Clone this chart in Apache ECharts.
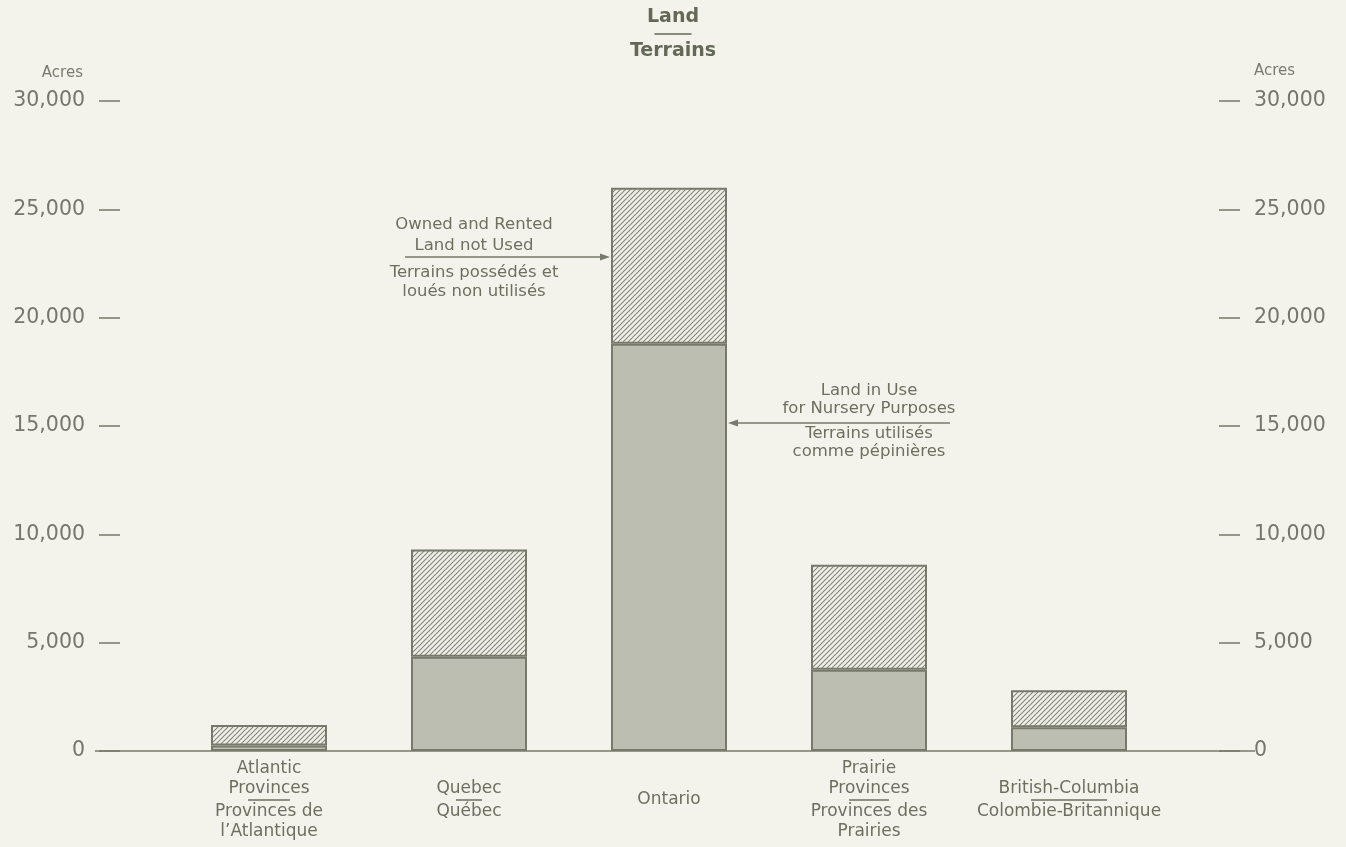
<!DOCTYPE html>
<html>
<head>
<meta charset="utf-8">
<script src="https://cdn.jsdelivr.net/npm/echarts@6/dist/echarts.min.js"></script>
<style>
  html, body { margin: 0; padding: 0; background: #f3f3ec; }
  #landChart { width: 1346px; height: 847px; }
</style>
</head>
<body>
<div id="landChart"></div>
<script>
// acres
const regionsEn = ['Atlantic\nProvinces', 'Quebec', 'Ontario', 'Prairie\nProvinces', 'British-Columbia'];
const regionsFr = ['Provinces de\nl\u2019Atlantique', 'Québec', '', 'Provinces des\nPrairies', 'Colombie-Britannique'];
const landInUse = [250, 4350, 18800, 3750, 1100];
const landNotUsed = [950, 4950, 7200, 4850, 1700];
const acreTicks = [0, 5000, 10000, 15000, 20000, 25000, 30000];

const ink = '#6d705f';
const lineInk = '#777a6a';
const font = 'DejaVu Sans';

// hatch fill for the unused land
const hatch = document.createElement('canvas');
hatch.width = 5;
hatch.height = 5;
const hctx = hatch.getContext('2d');
hctx.fillStyle = '#efefe8';
hctx.fillRect(0, 0, 5, 5);
hctx.strokeStyle = '#888a7c';
hctx.lineWidth = 1.2;
hctx.beginPath();
hctx.moveTo(-1, 6); hctx.lineTo(6, -1);
hctx.moveTo(-1, 1); hctx.lineTo(1, -1);
hctx.moveTo(4, 6); hctx.lineTo(6, 4);
hctx.stroke();

// little rules between the English and French names
const sepWidths = [42, 26, 0, 40, 76];
const labelRich = {
  t: {fontFamily: font, fontSize: 17, color: ink, lineHeight: 20, align: 'center'}
};
sepWidths.forEach(function (w, i) {
  labelRich['s' + i] = {width: w, height: 1.5, lineHeight: 3, backgroundColor: ink, align: 'center'};
});

function fmtAcres(v) {
  return v.toLocaleString('en-US');
}

const barWidth = 116;

const yAxisBase = {
  type: 'value',
  min: acreTicks[0],
  max: acreTicks[acreTicks.length - 1],
  interval: acreTicks[1] - acreTicks[0],
  name: 'Acres',
  nameLocation: 'end',
  offset: 49,
  splitLine: {show: false},
  axisLine: {show: false},
  axisTick: {show: true, length: 21, lineStyle: {color: lineInk, width: 1.5}},
  axisLabel: {margin: 35, color: '#74776a', fontFamily: font, fontSize: 20.5, formatter: fmtAcres},
};

let option = {
  backgroundColor: '#f3f3ec',
  animation: false,
  title: {
    left: 'center',
    top: 6,
    padding: 0,
    text: '{a|Land}\n{s|}\n{a|Terrains}',
    textStyle: {
      rich: {
        a: {fontFamily: font, fontSize: 19, fontWeight: 'bold', color: '#646856', lineHeight: 22, align: 'center'},
        s: {width: 37, height: 1.5, lineHeight: 12, backgroundColor: '#646856', align: 'center'}
      }
    }
  },
  grid: {left: 169, right: 177, top: 101, bottom: 96},
  xAxis: {
    type: 'category',
    data: regionsEn.map(function (s) { return s.replace('\n', ' '); }),
    axisLine: {show: false},
    axisTick: {show: false},
    axisLabel: {
      interval: 0,
      margin: 49,
      verticalAlign: 'middle',
      rich: labelRich,
      formatter: function (value, index) {
        let lines = regionsEn[index].split('\n').map(function (s) { return '{t|' + s + '}'; });
        if (regionsFr[index]) {
          lines.push('{s' + index + '|}');
          regionsFr[index].split('\n').forEach(function (s) { lines.push('{t|' + s + '}'); });
        }
        return lines.join('\n');
      }
    }
  },
  yAxis: [
    Object.assign({}, yAxisBase, {
      position: 'left',
      nameGap: 28,
      nameTextStyle: {color: '#7a7c6e', fontFamily: font, fontSize: 15, align: 'right', verticalAlign: 'middle', padding: [0, 37, 0, 0]}
    }),
    Object.assign({}, yAxisBase, {
      position: 'right',
      offset: 50,
      nameGap: 30,
      nameTextStyle: {color: '#7a7c6e', fontFamily: font, fontSize: 15, align: 'left', verticalAlign: 'middle', padding: [0, 0, 0, 35]}
    })
  ],
  series: [
    {
      name: 'Land in Use for Nursery Purposes',
      type: 'bar',
      stack: 'land',
      barWidth: barWidth,
      data: landInUse,
      itemStyle: {color: '#bcbeb2', borderColor: lineInk, borderWidth: 2}
    },
    {
      name: 'Owned and Rented Land not Used',
      type: 'bar',
      stack: 'land',
      barWidth: barWidth,
      data: landNotUsed,
      itemStyle: {color: {image: hatch, repeat: 'repeat'}, borderColor: lineInk, borderWidth: 2}
    }
  ]
};

const landChart = echarts.init(document.getElementById('landChart'), null, {width: 1346, height: 847});
landChart.setOption(option);

// baseline and the two pointer notes
const zeroY = landChart.convertToPixel({yAxisIndex: 0}, 0);
const ontX = landChart.convertToPixel({xAxisIndex: 0}, 2);
const ontLeft = ontX - barWidth / 2;
const ontRight = ontX + barWidth / 2;

function note(x, y, text) {
  return {
    type: 'text', x: x, y: y, silent: true,
    style: {text: text, fill: ink, font: '16.5px "' + font + '"', textAlign: 'center', textVerticalAlign: 'middle'}
  };
}
function arrow(x1, x2, y) {
  const dir = x2 > x1 ? 1 : -1;
  return [
    {type: 'line', silent: true, shape: {x1: x1, y1: y, x2: x2 - dir * 6, y2: y}, style: {stroke: lineInk, lineWidth: 1.5}},
    {type: 'polygon', silent: true, shape: {points: [[x2, y], [x2 - dir * 10, y - 3.5], [x2 - dir * 10, y + 3.5]]}, style: {fill: lineInk}}
  ];
}

const graphics = [
  {type: 'line', silent: true, shape: {x1: 95, y1: zeroY, x2: 1255, y2: zeroY}, style: {stroke: lineInk, lineWidth: 1.5}},
  note(474, 225, 'Owned and Rented'),
  note(474, 246, 'Land not Used'),
  note(474, 273, 'Terrains possédés et'),
  note(474, 292, 'loués non utilisés'),
  note(869, 391, 'Land in Use'),
  note(869, 409, 'for Nursery Purposes'),
  note(869, 434, 'Terrains utilisés'),
  note(869, 452, 'comme pépinières')
].concat(arrow(405, ontLeft - 1, 257), arrow(950, ontRight + 1, 423));

landChart.setOption({graphic: graphics});
</script>
</body>
</html>
